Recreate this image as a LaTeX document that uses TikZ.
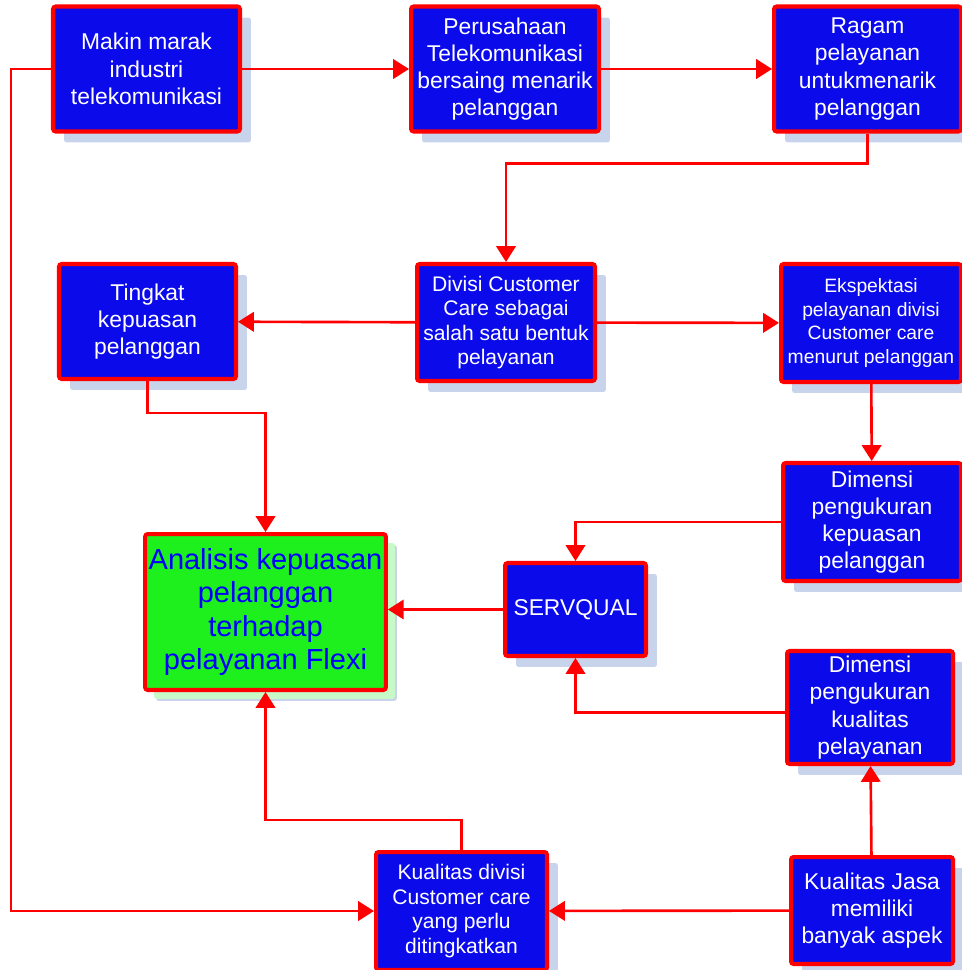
\documentclass[tikz,border=0pt]{standalone}
\usepackage{fontspec}
\setmainfont{Liberation Sans}
\usetikzlibrary{arrows.meta,shadows}
\definecolor{boxblue}{RGB}{10,10,235}
\definecolor{shadeblue}{RGB}{200,212,235}
\definecolor{shadegreen}{RGB}{200,250,200}
\definecolor{boxgreen}{RGB}{30,240,30}
\begin{document}
\begin{tikzpicture}[x=0.02cm,y=-0.02cm,
    kotak/.style={draw=red, line width=2.3pt, fill=boxblue, text=white,
        rounded corners=1.5pt, align=center, inner sep=2pt,
        font=\fontsize{13}{15.5}\selectfont,
        drop shadow={shadow xshift=0.22cm, shadow yshift=-0.22cm, fill=shadeblue, opacity=1}},
    hasil/.style={kotak, fill=boxgreen, text=blue,
        font=\fontsize{16.5}{19}\selectfont,
        drop shadow={shadow xshift=0.18cm, shadow yshift=-0.18cm, fill=shadegreen, opacity=1}},
    panah/.style={draw=red, line width=1.5pt, -{Triangle[width=11pt,length=9pt]}}]
    \useasboundingbox (0,0) rectangle (962,970);
    % baris atas
    \node[kotak, minimum width=3.74cm, minimum height=2.5cm] (makin) at (146.5,69) {Makin marak\\industri\\telekomunikasi};
    \node[kotak, minimum width=3.76cm, minimum height=2.5cm] (perusahaan) at (505,69) {Perusahaan\\Telekomunikasi\\bersaing menarik\\pelanggan};
    \node[kotak, minimum width=3.74cm, minimum height=2.5cm] (ragam) at (867.5,69) {Ragam\\pelayanan\\untukmenarik\\pelanggan};
    % baris kedua
    \node[kotak, minimum width=3.54cm, minimum height=2.3cm] (tingkat) at (147.5,321.5) {Tingkat\\kepuasan\\pelanggan};
    \node[kotak, minimum width=3.56cm, minimum height=2.34cm, font=\fontsize{12}{14}\selectfont] (divisi) at (506,322.5) {Divisi Customer\\Care sebagai\\salah satu bentuk\\pelayanan};
    \node[kotak, minimum width=3.6cm, minimum height=2.36cm, font=\fontsize{11}{13.5}\selectfont] (ekspektasi) at (871,323) {Ekspektasi\\pelayanan divisi\\Customer care\\menurut pelanggan};
    % bagian tengah
    \node[kotak, minimum width=3.56cm, minimum height=2.36cm] (dimkepuasan) at (872,522) {Dimensi\\pengukuran\\kepuasan\\pelanggan};
    \node[hasil, minimum width=4.74cm, minimum height=3.12cm] (analisis) at (265.5,612) {Analisis kepuasan\\pelanggan\\terhadap\\pelayanan Flexi};
    \node[kotak, minimum width=2.82cm, minimum height=1.86cm] (servqual) at (575.5,609.5) {SERVQUAL};
    \node[kotak, minimum width=3.32cm, minimum height=2.26cm] (dimkualitas) at (870,707.5) {Dimensi\\pengukuran\\kualitas\\pelayanan};
    % baris bawah
    \node[kotak, minimum width=3.42cm, minimum height=2.36cm, font=\fontsize{12}{14}\selectfont] (kualdivisi) at (461.5,911) {Kualitas divisi\\Customer care\\yang perlu\\ditingkatkan};
    \node[kotak, minimum width=3.24cm, minimum height=2.14cm] (jasa) at (872,910.5) {Kualitas Jasa\\memiliki\\banyak aspek};
    % hubungan
    \draw[panah] (makin) -- (perusahaan);
    \draw[panah] (perusahaan) -- (ragam);
    \draw[panah] (ragam.south) -- ++(0,30) -| (divisi.north);
    \draw[panah] (divisi) -- (tingkat);
    \draw[panah] (divisi) -- (ekspektasi);
    \draw[panah] (ekspektasi) -- (dimkepuasan);
    \draw[panah] (tingkat.south) -- ++(0,32) -| (analisis.north);
    \draw[panah] (dimkepuasan.west) -| (servqual.north);
    \draw[panah] (servqual) -- (servqual -| analisis.east);
    \draw[panah] ([yshift=-0.1cm]dimkualitas.west) -| (servqual.south);
    \draw[panah] (jasa) -- (dimkualitas);
    \draw[panah] (jasa) -- (kualdivisi);
    \draw[panah] (kualdivisi.north) -- ++(0,-30) -| (analisis.south);
    \draw[panah] (makin.west) -- ++(-40,0) |- (kualdivisi.west);
\end{tikzpicture}
\end{document}
